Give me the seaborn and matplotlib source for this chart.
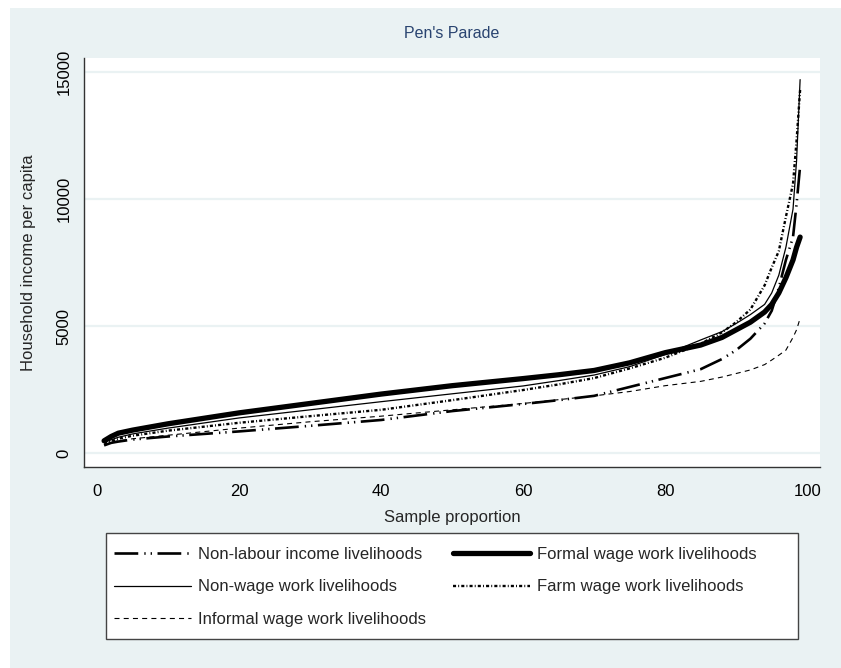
import numpy as np
import pandas as pd
import matplotlib
matplotlib.use("Agg")
import matplotlib.pyplot as plt
from matplotlib.patches import Rectangle
import seaborn as sns

# percentile positions
pct = [1, 2, 3, 5, 10, 20, 30, 40, 50, 60, 65, 70, 75, 80, 85, 88, 90, 92, 94, 95, 96, 97, 98, 98.5, 99]

non_labour = [300, 400, 450, 530, 650, 850, 1070, 1300, 1650, 1930, 2080, 2250, 2600, 2950, 3300, 3700,
              4050, 4500, 5100, 5600, 6500, 7600, 8500, 9800, 11300]
formal = [480, 650, 780, 900, 1150, 1580, 1950, 2320, 2650, 2930, 3080, 3250, 3550, 3950, 4250, 4550,
          4850, 5150, 5550, 5850, 6300, 6900, 7600, 8100, 8500]
non_wage = [420, 520, 620, 750, 980, 1380, 1700, 2020, 2330, 2640, 2850, 3070, 3400, 3880, 4450, 4780,
            5100, 5450, 5850, 6300, 7000, 8100, 9600, 11500, 14700]
farm = [380, 470, 560, 680, 880, 1190, 1450, 1700, 2080, 2480, 2700, 2950, 3330, 3750, 4300, 4750,
        5150, 5650, 6600, 7300, 7950, 9300, 10600, 12300, 14300]
informal = [320, 420, 480, 560, 700, 980, 1230, 1450, 1700, 1950, 2100, 2250, 2420, 2650, 2820, 2990,
            3130, 3270, 3480, 3660, 3850, 4050, 4550, 4850, 5300]

labels = ["Non-labour income livelihoods", "Formal wage work livelihoods", "Non-wage work livelihoods",
          "Farm wage work livelihoods", "Informal wage work livelihoods"]
series = [non_labour, formal, non_wage, farm, informal]

df = pd.concat([pd.DataFrame({"pct": pct, "income": s, "group": g}) for g, s in zip(labels, series)])

styles = {
    "Non-labour income livelihoods": dict(lw=1.9, linestyle=(0, (9, 2.3, 0.5, 1.9, 0.5, 2.1))),
    "Formal wage work livelihoods": dict(lw=3.8, linestyle="-"),
    "Non-wage work livelihoods": dict(lw=0.9, linestyle="-"),
    "Farm wage work livelihoods": dict(lw=1.7, linestyle=(0, (1.3, 0.9, 0.4, 0.9))),
    "Informal wage work livelihoods": dict(lw=0.8, linestyle=(0, (4.5, 3.8))),
}

bg = "#EAF2F3"
sns.set_style("white")
plt.rcParams["font.family"] = ["Liberation Sans", "DejaVu Sans"]

fig = plt.figure(figsize=(8.41, 6.68), dpi=100)
fig.patch.set_facecolor("white")
fig.patches.append(Rectangle((10 / 841, 0), 831 / 841, 660 / 668, transform=fig.transFigure,
                             facecolor=bg, edgecolor="none", zorder=-10))

ax = fig.add_axes([84 / 841, (668 - 467) / 668, (820 - 84) / 841, (467 - 58) / 668])
ax.set_facecolor("white")

handles = {}
for g in labels:
    sns.lineplot(data=df[df["group"] == g], x="pct", y="income", ax=ax, color="black",
                 label=g, legend=False, **styles[g])
    handles[g] = ax.get_lines()[-1]

ax.set_xlim(-1.83, 101.8)
ax.set_ylim(-551, 15551)
ax.set_xticks([0, 20, 40, 60, 80, 100])
ax.set_yticks([0, 5000, 10000, 15000])
ax.yaxis.grid(True, color=bg, lw=1.6)
ax.set_axisbelow(True)

for side in ["top", "right"]:
    ax.spines[side].set_visible(False)
for side in ["left", "bottom"]:
    ax.spines[side].set_color("#333333")
    ax.spines[side].set_linewidth(1.0)

ax.tick_params(axis="both", direction="out", length=6, width=1, color="#333333",
               labelsize=12, labelcolor="black")
ax.tick_params(axis="y", labelrotation=90, pad=3)
for t in ax.get_yticklabels():
    t.set_va("center")
ax.tick_params(axis="x", pad=6)

ax.set_xlabel("Sample proportion", fontsize=12, labelpad=8)
ax.set_ylabel("Household income per capita", fontsize=12, labelpad=15)

fig.text(452 / 841, 1 - 34 / 668, "Pen's Parade", ha="center", va="center",
         fontsize=11.5, color="#2A4470")

# legend box drawn by hand, entries placed inside it
fig.patches.append(Rectangle((106 / 841, (668 - 639) / 668), (798 - 106) / 841, (639 - 533) / 668,
                             transform=fig.transFigure, facecolor="white", edgecolor="#444444",
                             lw=1.0, zorder=-5))
order = [labels[0], labels[2], labels[4], labels[1], labels[3]]
leg = fig.legend([handles[g] for g in order], order, ncol=2, loc="upper left",
                 bbox_to_anchor=(114 / 841, 1 - 547 / 668), borderaxespad=0, borderpad=0,
                 fontsize=12, handlelength=4.6, handletextpad=0.45, columnspacing=1.6,
                 labelspacing=1.05, frameon=False)

fig.savefig("out.png", dpi=100, facecolor=fig.get_facecolor())
